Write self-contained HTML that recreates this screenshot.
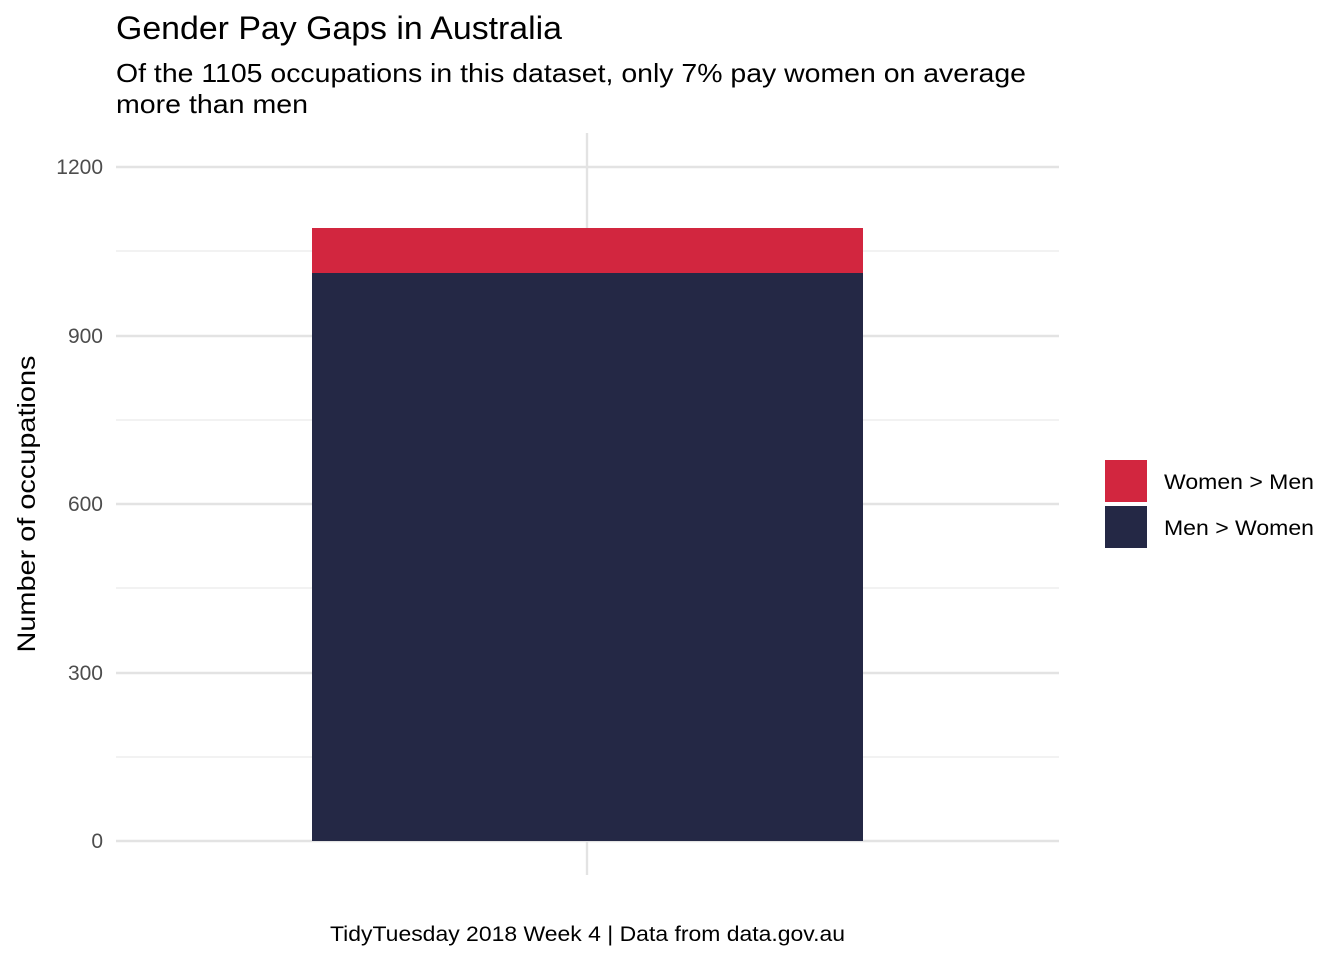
<!DOCTYPE html>
<html><head><meta charset="utf-8"><style>
body{margin:0;background:#fff;}
svg text{font-family:"Liberation Sans",sans-serif;}
</style></head><body>
<svg width="1344" height="960" xmlns="http://www.w3.org/2000/svg">
<rect width="1344" height="960" fill="#fff"/>
<text x="116" y="39" font-size="32" fill="#000" textLength="446" lengthAdjust="spacingAndGlyphs">Gender Pay Gaps in Australia</text>
<text x="116" y="82" font-size="26" fill="#000" textLength="910" lengthAdjust="spacingAndGlyphs">Of the 1105 occupations in this dataset, only 7% pay women on average</text>
<text x="116" y="113" font-size="26" fill="#000" textLength="192" lengthAdjust="spacingAndGlyphs">more than men</text>
<g stroke="#ebebeb" stroke-width="1.2">
<line x1="116" x2="1059" y1="251" y2="251"/><line x1="116" x2="1059" y1="420" y2="420"/>
<line x1="116" x2="1059" y1="588" y2="588"/><line x1="116" x2="1059" y1="757" y2="757"/>
</g>
<g stroke="#e3e3e3" stroke-width="2.4">
<line x1="116" x2="1059" y1="167" y2="167"/><line x1="116" x2="1059" y1="336" y2="336"/>
<line x1="116" x2="1059" y1="504" y2="504"/><line x1="116" x2="1059" y1="673" y2="673"/>
<line x1="116" x2="1059" y1="841" y2="841"/>
<line x1="587" x2="587" y1="133" y2="875"/>
</g>
<rect x="312" y="228" width="551" height="45" fill="#d2263f"/>
<rect x="312" y="273" width="551" height="568" fill="#242845"/>
<g font-size="21" fill="#4d4d4d" text-anchor="end">
<text x="103" y="174">1200</text><text x="103" y="343">900</text>
<text x="103" y="511">600</text><text x="103" y="680">300</text><text x="103" y="848">0</text>
</g>
<text transform="translate(35,504) rotate(-90)" font-size="25" text-anchor="middle" fill="#000" textLength="297" lengthAdjust="spacingAndGlyphs">Number of occupations</text>
<rect x="1105" y="460" width="42" height="42" fill="#d2263f"/>
<rect x="1105" y="506" width="42" height="42" fill="#242845"/>
<text x="1164" y="489" font-size="21" fill="#000" textLength="150" lengthAdjust="spacingAndGlyphs">Women &gt; Men</text>
<text x="1164" y="535" font-size="21" fill="#000" textLength="150" lengthAdjust="spacingAndGlyphs">Men &gt; Women</text>
<text x="330" y="941" font-size="21" fill="#000" textLength="515" lengthAdjust="spacingAndGlyphs">TidyTuesday 2018 Week 4 | Data from data.gov.au</text>
</svg>
</body></html>
